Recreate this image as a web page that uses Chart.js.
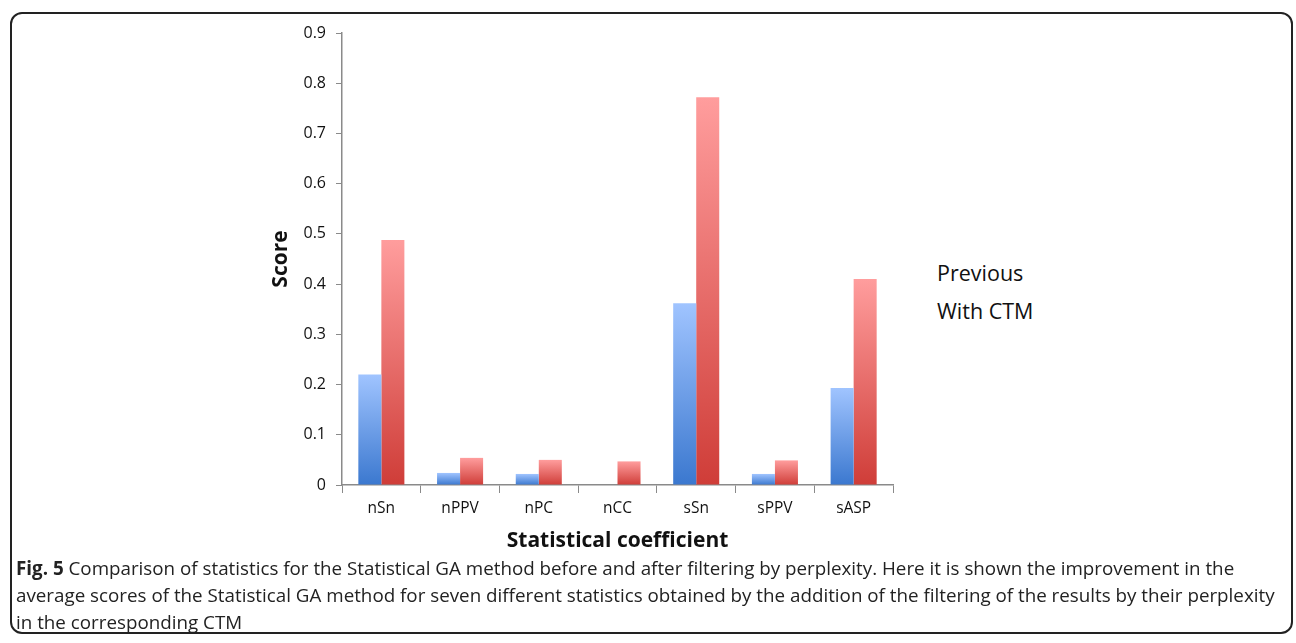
<!DOCTYPE html>
<html>
<head>
<meta charset="utf-8">
<script src="https://cdn.jsdelivr.net/npm/chart.js@4/dist/chart.umd.min.js"></script>
<style>
  body { margin: 0; width: 1296px; height: 643px; background: #fff; position: relative; overflow: hidden; font-family: "Open Sans", sans-serif; }
  .frame { position: absolute; left: 10px; top: 12px; width: 1283px; height: 622px; border: 2px solid #222; border-radius: 12px; box-sizing: border-box; }
  #wrap { position: absolute; left: 264px; top: 10px; width: 636px; height: 550px; }
  .legend { position: absolute; left: 937px; font-size: 21.5px; color: #111; }
  .caption { position: absolute; left: 16px; top: 555px; font-size: 18.8px; line-height: 27px; color: #222; white-space: nowrap; }
</style>
</head>
<body>
<div class="frame"></div>
<div id="wrap"><canvas id="scoreChart"></canvas></div>
<div class="legend" style="top:258px">Previous</div>
<div class="legend" style="top:296px">With CTM</div>
<div class="caption"><b>Fig. 5</b> Comparison of statistics for the Statistical GA method before and after filtering by perplexity. Here it is shown the improvement in the<br>average scores of the Statistical GA method for seven different statistics obtained by the addition of the filtering of the results by their perplexity<br>in the corresponding CTM</div>
<script>
const categories = ['nSn', 'nPPV', 'nPC', 'nCC', 'sSn', 'sPPV', 'sASP'];
const previous = [0.22, 0.024, 0.022, 0, 0.362, 0.022, 0.193];
const withCtm = [0.488, 0.054, 0.05, 0.047, 0.772, 0.049, 0.41];
const yTicks = [0, 0.1, 0.2, 0.3, 0.4, 0.5, 0.6, 0.7, 0.8, 0.9];

// vertical gradient per bar, light on top, dark at the base
function barGradient(top, bottom, fallback) {
  return function(context) {
    const chart = context.chart;
    if (!chart.chartArea || context.type !== 'data') return fallback;
    const y = chart.scales.y;
    const v = context.raw || 0;
    const yTop = y.getPixelForValue(v);
    const yBase = y.getPixelForValue(0);
    if (yBase - yTop < 1) return fallback;
    const g = chart.ctx.createLinearGradient(0, yTop, 0, yBase);
    g.addColorStop(0, top);
    g.addColorStop(1, bottom);
    return g;
  };
}

const ctx = document.getElementById('scoreChart').getContext('2d');
new Chart(ctx, {
  type: 'bar',
  data: {
    labels: categories,
    datasets: [{
      label: 'Previous',
      data: previous,
      backgroundColor: barGradient('#a0c4ff', '#3b78cf', '#6d9ee8')
    }, {
      label: 'With CTM',
      data: withCtm,
      backgroundColor: barGradient('#ff9d9d', '#cf3d38', '#e86b67')
    }]
  },
  options: {
    responsive: true,
    maintainAspectRatio: false,
    animation: false,
    layout: { padding: { top: 23, right: 7 } },
    categoryPercentage: 0.585,
    barPercentage: 1,
    plugins: {
      legend: { display: false },
      tooltip: { enabled: false }
    },
    scales: {
      y: {
        min: 0,
        max: 0.9,
        afterBuildTicks: (scale) => { scale.ticks = yTicks.map(v => ({ value: v })); },
        afterFit: (scale) => { scale.width = 78; },
        border: { color: '#8a8a8a', width: 1.5 },
        grid: { drawOnChartArea: false, tickLength: 6, color: '#8a8a8a' },
        ticks: {
          color: '#111',
          font: { family: 'Open Sans', size: 16 },
          padding: 10,
          callback: (v) => v === 0 ? '0' : v.toFixed(1)
        },
        title: {
          display: true,
          text: 'Score',
          color: '#111',
          font: { family: 'Open Sans', size: 21, weight: 'bold' },
          padding: { top: 4, bottom: 4 }
        }
      },
      x: {
        afterFit: (scale) => { scale.height = 75; },
        border: { color: '#8a8a8a', width: 1.5 },
        grid: { drawOnChartArea: false, offset: true, tickLength: 8, color: '#8a8a8a' },
        ticks: {
          color: '#111',
          font: { family: 'Open Sans', size: 15.5 },
          padding: 6
        },
        title: {
          display: true,
          text: 'Statistical coefficient',
          color: '#111',
          font: { family: 'Open Sans', size: 21, weight: 'bold' },
          padding: { top: 0, bottom: 6 }
        }
      }
    }
  }
});
</script>
</body>
</html>
